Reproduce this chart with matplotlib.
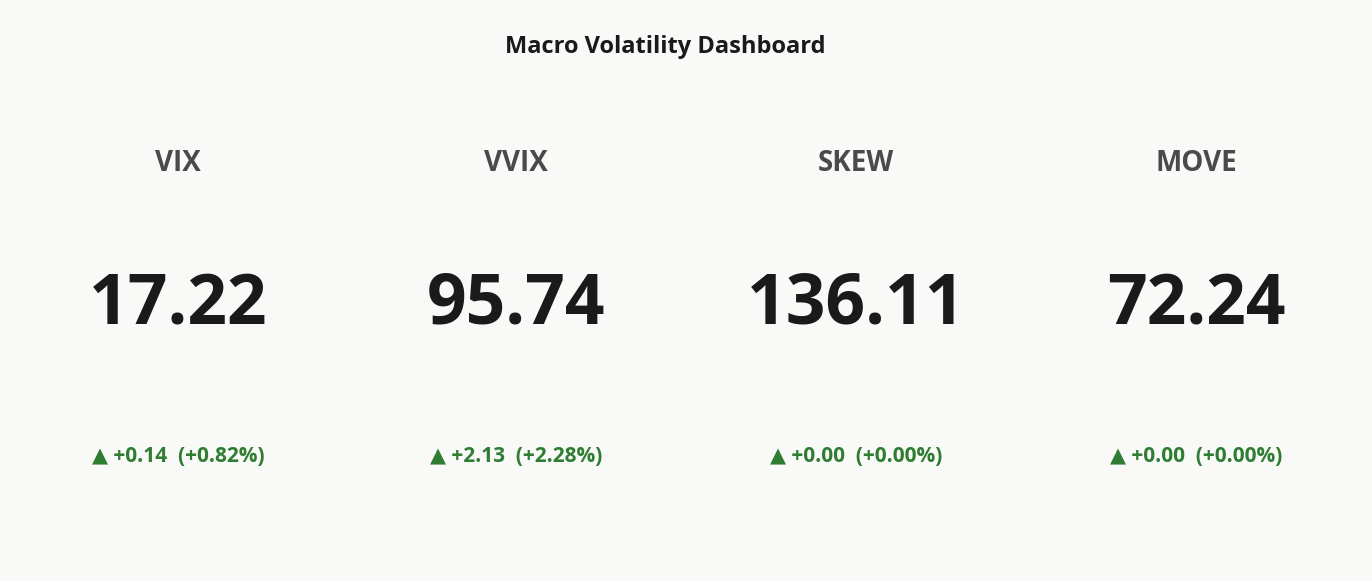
import matplotlib
matplotlib.use("Agg")
import matplotlib.pyplot as plt

names = ["VIX", "VVIX", "SKEW", "MOVE"]
values = [17.22, 95.74, 136.11, 72.24]
changes = [0.14, 2.13, 0.00, 0.00]
pcts = [0.82, 2.28, 0.00, 0.00]

fam = ["Open Sans", "DejaVu Sans"]
fig = plt.figure(figsize=(13.72, 5.81), dpi=100, facecolor="#f9f9f7")
fig.text(0.485, 0.919, "Macro Volatility Dashboard", ha="center", va="center",
         fontsize=17, fontweight="bold", color="#1a1a1a", family=fam)
centers = [178, 516, 856, 1196]
for i, n in enumerate(names):
    x = centers[i] / 1372
    fig.text(x, 0.719, n, ha="center", va="center", fontsize=20, fontweight="bold",
             color="#4a4a4a", family=fam)
    fig.text(x, 0.475, f"{values[i]:.2f}", ha="center", va="center", fontsize=50,
             fontweight="bold", color="#1a1a1a", family=fam)
    up = changes[i] >= 0
    arrow = "▲" if up else "▼"
    col = "#2e7d32" if up else "#c62828"
    fig.text(x, 0.215, f"{arrow} {changes[i]:+.2f}  ({pcts[i]:+.2f}%)", ha="center",
             va="center", fontsize=15, fontweight="bold", color=col, family=fam)
fig.savefig("out.png", dpi=100, facecolor=fig.get_facecolor())
